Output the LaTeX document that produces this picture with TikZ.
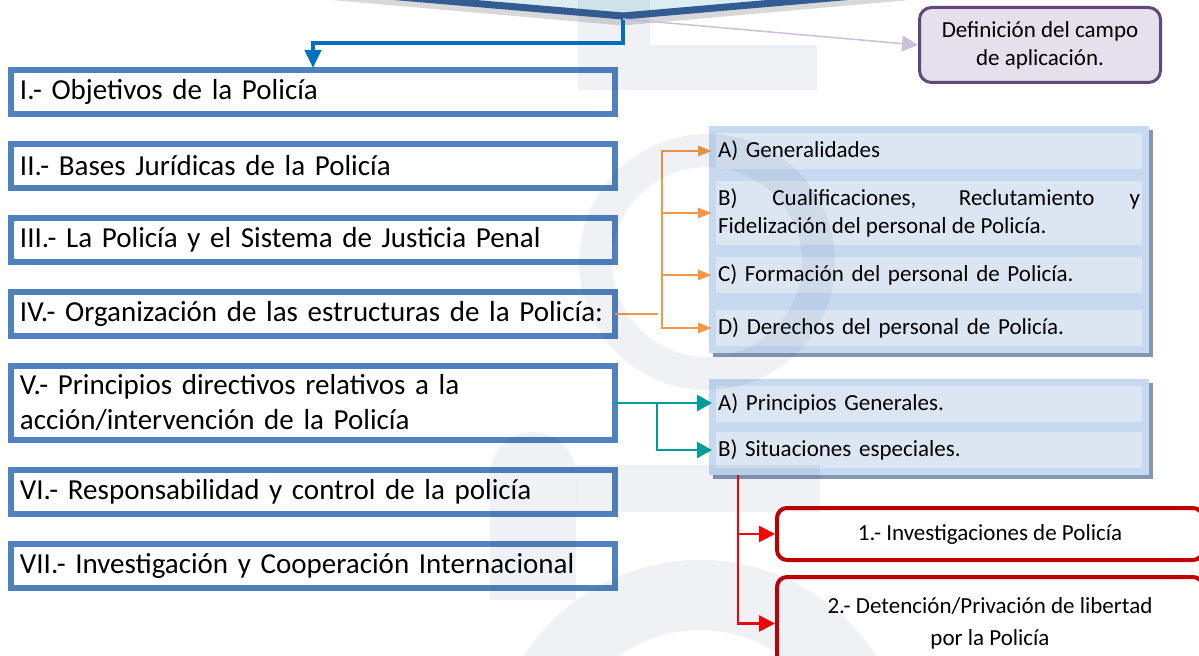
\documentclass[tikz,border=0pt]{standalone}
\usepackage{fontspec}
\setmainfont{Carlito}
\usepackage{tikz}
\usetikzlibrary{positioning,arrows.meta,chains,fit,backgrounds}

\definecolor{boxblue}{HTML}{4F81BD}
\definecolor{bannerblue}{HTML}{335D92}
\definecolor{bannerfill}{HTML}{DAEEF3}
\definecolor{linkblue}{HTML}{0070C0}
\definecolor{lavender}{HTML}{CCC1DA}
\definecolor{defborder}{HTML}{5F497A}
\definecolor{deffill}{HTML}{E5E0EC}
\definecolor{panelfill}{HTML}{C6D9F1}
\definecolor{rowfill}{HTML}{DCE6F2}
\definecolor{panelshadow}{HTML}{8496B0}
\definecolor{orangelink}{HTML}{F79646}
\definecolor{teallink}{HTML}{009C99}
\definecolor{redlink}{HTML}{FF0000}
\definecolor{redborder}{HTML}{C00000}
\definecolor{watermark}{RGB}{40,70,110}

\def\topicwidth{586bp}
\def\rowwidth{422bp}
\newcommand{\topicfont}{\fontsize{29bp}{35bp}\selectfont}
\newcommand{\rowfont}{\fontsize{23bp}{28bp}\selectfont}

\tikzstyle{signal}=[draw=linkblue,line width=4bp,-{Triangle[length=18bp,width=16bp]},shorten >=2bp]
\tikzstyle{topic}=[draw=boxblue, line width=6bp, fill=white,
    outer sep=0pt, inner xsep=9bp, inner ysep=0pt,
    text width=\topicwidth, align=left, minimum height=44bp, font=\topicfont]
\tikzstyle{itemrow}=[fill=rowfill, outer sep=0pt, inner xsep=2bp, inner ysep=0pt,
    text width=\rowwidth, align=left, minimum height=36bp, font=\rowfont]
\tikzstyle{itempanel}=[fill=panelfill, inner sep=7bp]
\tikzstyle{redbox}=[draw=redborder, line width=4bp, fill=white, rounded corners=10bp,
    outer sep=0pt, minimum width=426bp, align=center, font=\rowfont]
\tikzstyle{defbox}=[draw=defborder, line width=3bp, fill=deffill, rounded corners=12bp,
    minimum width=241bp, minimum height=75bp, align=center, font=\rowfont]
\tikzstyle{lavline}=[draw=lavender, line width=1.5bp, -{Triangle[length=16bp,width=16bp]}]
\tikzstyle{orangeline}=[draw=orangelink, line width=2.5bp, -{Triangle[length=14bp,width=10bp]}, shorten >=4bp]
\tikzstyle{tealline}=[draw=teallink, line width=2.5bp, -{Triangle[length=15bp,width=16bp]}, shorten >=4bp]
\tikzstyle{redline}=[draw=redlink, line width=2.5bp, -{Triangle[length=16bp,width=16bp]}, shorten >=2bp]

\begin{document}
\begin{tikzpicture}[x=1bp, y=-1bp, start chain=going below, node distance=30bp,
    topic/.append style={on chain}]
\useasboundingbox (0,0) rectangle (1199,656);
\clip (0,0) rectangle (1199,656);
\begin{scope}[on background layer]
  \fill[white] (0,0) rectangle (1199,656);
\end{scope}

% banner at the top
\fill[bannerfill] (200,-20) -- (623,16) -- (1050,-21) -- (1050,-60) -- (200,-60) -- cycle;
\draw[gray!55, line width=7bp, opacity=.55] (200,-15) -- (623,22) -- (1050,-16);
\draw[bannerblue, line width=7bp, line join=round] (200,-20) -- (623,16) -- (1050,-21);
\coordinate (vertex) at (623,19);

\node[defbox] (defin) at (1040,45) {Definición del campo\\de aplicación.};

% left column
\node[topic] (obj) at (313,92) {I.- Objetivos de la Policía};
\node[topic] (bases) {II.- Bases Jurídicas de la Policía};
\node[topic] (justicia) {III.- La Policía y el Sistema de Justicia Penal};
\node[topic] (org) {IV.- Organización de las estructuras de la Policía:};
\node[topic, minimum height=74bp] (princ) {V.- Principios directivos relativos a la\\acción/intervención de la Policía};
\node[topic] (resp) {VI.- Responsabilidad y control de la policía};
\node[topic] (inv) {VII.- Investigación y Cooperación Internacional};

% organizacion
\node[itemrow] (gen) at (929,151) {A) Generalidades};
\node[itemrow, below=12bp of gen, minimum height=64bp, align=justify] (cual)
    {B) Cualificaciones, Reclutamiento y\linebreak Fidelización del personal de Policía.};
\node[itemrow, below=12bp of cual] (form) {C) Formación del personal de Policía.};
\node[itemrow, below=17bp of form] (der) {D) Derechos del personal de Policía.};

% principios
\node[itemrow] (pgen) at (929,404) {A) Principios Generales.};
\node[itemrow, below=10bp of pgen] (sit) {B) Situaciones especiales.};

\begin{scope}[on background layer]
  \node[itempanel, fill=panelshadow, fit=(gen)(der), xshift=4bp, yshift=-4bp] {};
  \node[itempanel, fit=(gen)(der)] (orgpanel) {};
  \node[itempanel, fill=panelshadow, fit=(pgen)(sit), xshift=4bp, yshift=-4bp] {};
  \node[itempanel, fit=(pgen)(sit)] (sitpanel) {};
\end{scope}

% situaciones especiales
\node[redbox, minimum height=52bp] (investig) at (990,534) {1.- Investigaciones de Policía};
\node[redbox, minimum height=93bp, below=17bp of investig] (detenc)
    {2.- Detención/Privación de libertad\\[4bp]por la Policía};

% connectors
\draw[signal] (vertex) -- ++(0,24) -| (obj.north);
\draw[lavline] (vertex) -- (defin.west);

\coordinate (ojunc) at ([xshift=47bp]org.east);
\draw[orangeline, -] (org.east) -- (ojunc);
\foreach \n in {gen,cual,form,der}
  \draw[orangeline] (ojunc) |- (\n.west);

\coordinate (tjunc) at ([xshift=42bp]princ.east);
\draw[tealline] (princ.east) -- (princ.east -| pgen.west);
\draw[tealline] (tjunc) |- (sit.west);

\path (sitpanel.south west) ++(29,0) coordinate (rjunc);
\draw[redline] (rjunc) |- (investig.west);
\draw[redline] (rjunc) |- (detenc.west);

% watermark
\begin{scope}[fill=watermark, fill opacity=.07]
  \fill (578,-5) rectangle (650,45);
  \fill (578,45) rectangle (817,90);
  \fill[even odd rule] (707,262) circle[radius=128] (707,262) circle[radius=95];
  \fill (490,600) -- (490,475) arc[start angle=180, end angle=360, radius=43] -- (576,600) -- cycle;
  \fill (576,465) rectangle (820,512);
  \fill[even odd rule] (700,770) circle[radius=210] (700,770) circle[radius=140];
\end{scope}
\end{tikzpicture}
\end{document}
